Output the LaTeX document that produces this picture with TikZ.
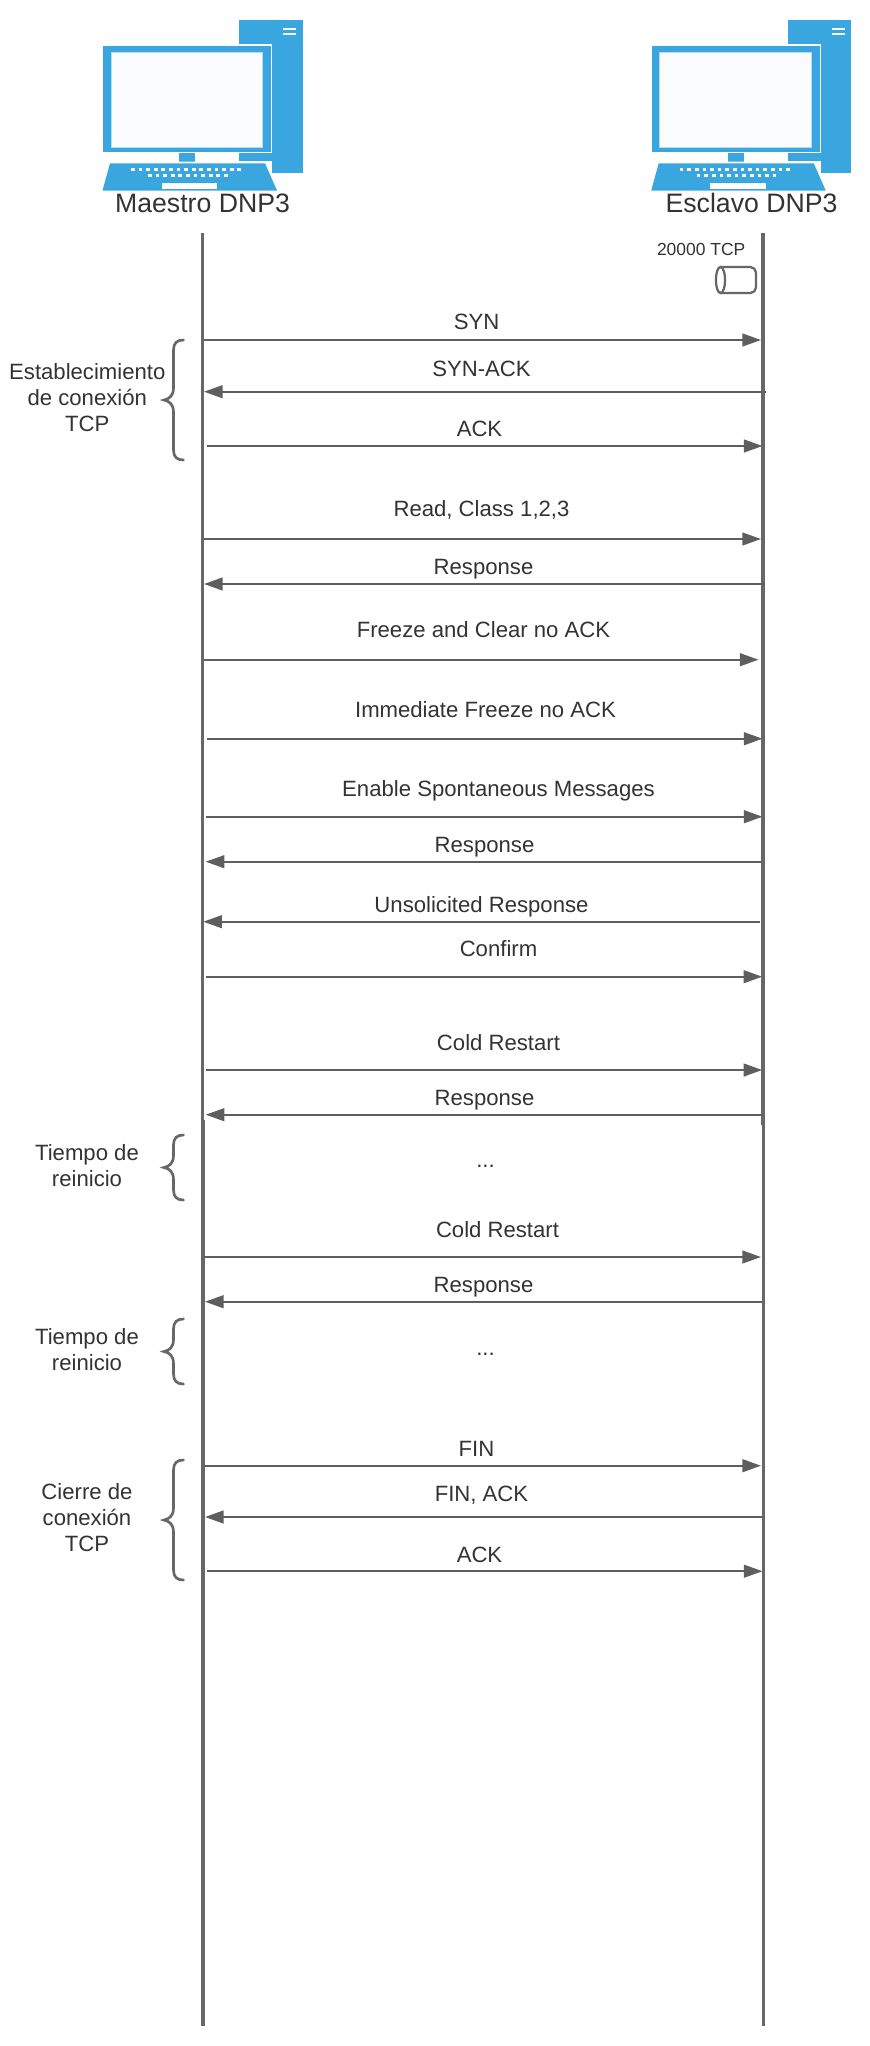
\documentclass[tikz,border=0pt]{standalone}
\usepackage{fontspec}
\setmainfont{Liberation Sans}
\usetikzlibrary{arrows.meta}
\definecolor{iconblue}{HTML}{3AA6DF}
\definecolor{screenfill}{HTML}{FBFCFE}
\definecolor{linegray}{HTML}{5E5E5E}
\definecolor{lifegray}{HTML}{676767}
\definecolor{textgray}{HTML}{333333}
\tikzset{
  x=0.75pt,y=-0.75pt,
  lifeline/.style={draw=lifegray,line width=2.6pt},
  msgline/.style={draw=linegray,line width=1.45pt,-{Triangle[length=14pt,width=9.6pt]}},
  msgtext/.style={font=\fontsize{16.6pt}{19.8pt}\selectfont,text=textgray,inner sep=0pt},
  sidetext/.style={font=\fontsize{16.6pt}{19.8pt}\selectfont,text=textgray,inner sep=0pt,align=center},
  titletext/.style={font=\fontsize{20pt}{23pt}\selectfont,text=textgray,inner sep=0pt,anchor=base},
  bracestroke/.style={draw=lifegray,line width=2pt,line cap=round},
  computer/.pic={
    \fill[iconblue] (239.3,20) rectangle (302.7,173);
    \fill[white] (230,161) rectangle (272,180);
    \draw[white,line width=2pt] (103.3,45.7) rectangle (271,152);
    \fill[iconblue] (103.3,45.7) rectangle (271,152);
    \fill[white] (283.3,27.7) rectangle (296,29.7);
    \fill[white] (283.3,33) rectangle (296,35.3);
    \draw[iconblue!40!white,line width=0.5pt,fill=screenfill] (111,52.3) rectangle (262.7,147.3);
    \fill[iconblue] (179.3,153.3) rectangle (195.3,162);
    \draw[white,line width=2.6pt] (110,163.3) -- (265,163.3) -- (277,190.5);
    \fill[iconblue] (110,163.3) -- (265,163.3) -- (277,190.5) -- (102.5,190.5) -- cycle;
    \foreach \k in {0,...,14} {\fill[white] ({131+\k*7.6},167.7) rectangle ++(3.7,3.7);}
    \foreach \k in {0,...,10} {\fill[white] ({148+\k*7.6},173.7) rectangle ++(3.7,3.7);}
    \fill[white] (161.7,183) rectangle (217,188.7);
  }
}
\newcommand{\msg}[7]{%
  \coordinate (#1a) at (#3,#2);
  \coordinate (#1b) at (#4,#2);
  \draw[msgline] (#1a) -- (#1b);
  \node[msgtext] (#1t) at (#6,#7) {#5};
}
\newcommand{\sidebrace}[3]{%
  \coordinate (#1top) at (183.5,#2);
  \coordinate (#1bot) at (183.5,#3);
  \coordinate (#1tip) at (164,{(#2+#3)/2});
  \draw[bracestroke] (#1top) .. controls (177,#2) and (173.5,{#2+3}) .. (173.5,{#2+10})
    -- (173.5,{(#2+#3)/2-12}) .. controls (173.5,{(#2+#3)/2-4}) and (169,{(#2+#3)/2-1}) .. (#1tip)
    .. controls (169,{(#2+#3)/2+1}) and (173.5,{(#2+#3)/2+4}) .. (173.5,{(#2+#3)/2+12})
    -- (173.5,{#3-10}) .. controls (173.5,{#3-3}) and (177,#3) .. (#1bot);
}
\begin{document}
\begin{tikzpicture}
\useasboundingbox (0,0) rectangle (870,2046);
\fill[white] (0,0) rectangle (870,2046);
% computers
\pic (pcm) at (0,0) {computer};
\pic (pcs) at (548.7,0) {computer};
\node[titletext] (mtitle) at (202.5,212) {Maestro DNP3};
\node[titletext] (stitle) at (751.5,212) {Esclavo DNP3};
% lifelines
\coordinate (mtop) at (202.6,233);
\coordinate (mmid) at (202.6,1140);
\coordinate (mlow) at (203.1,1120);
\coordinate (mbot) at (203.1,2026);
\coordinate (stop) at (762.8,233);
\coordinate (smid) at (762.8,1125);
\coordinate (slow) at (763.4,1110);
\coordinate (sbot) at (763.4,2026);
\draw[lifeline] (mtop) -- (mmid);
\draw[lifeline] (mlow) -- (mbot);
\draw[lifeline] (stop) -- (smid);
\draw[lifeline] (slow) -- (sbot);
% port
\node[inner sep=0pt,font=\fontsize{13.1pt}{15pt}\selectfont,text=textgray] (port) at (701.2,249.5) {20000 TCP};
\draw[draw=lifegray,line width=1.7pt,rounded corners=4.2pt] (720,267) -- (756,267) -- (756,293) -- (720,293);
\draw[draw=lifegray,line width=1.7pt] (720.5,280) ellipse [x radius=4.6,y radius=13];
% messages
\msg{syn}{340}{204}{761}{SYN}{476.5}{322}
\msg{sa}{391.7}{765.5}{204}{SYN-ACK}{481.5}{369}
\msg{ack}{446}{206.7}{762.5}{ACK}{479.5}{428.5}
\msg{read}{539}{204}{761}{Read, Class 1,2,3}{481.5}{510}
\msg{ra}{584}{765}{204}{Response}{483.5}{569}
\msg{fr}{659.7}{204}{758.5}{Freeze and Clear no ACK}{483.5}{629.5}
\msg{im}{738.7}{206.7}{762.5}{Immediate Freeze no ACK}{485.5}{709.5}
\msg{en}{816.7}{206}{762.5}{Enable Spontaneous Messages}{498.5}{791}
\msg{rb}{861.7}{762.2}{205.7}{Response}{484.5}{847.5}
\msg{un}{921.7}{759.5}{203.3}{Unsolicited Response}{481.5}{906.5}
\msg{con}{976.7}{206}{762.2}{Confirm}{498.5}{949}
\msg{cr}{1070}{206}{762.2}{Cold Restart}{498.5}{1043}
\msg{rc}{1114.7}{762.2}{205.7}{Response}{484.5}{1100.5}
\msg{cs}{1257}{204}{761}{Cold Restart}{497.5}{1230}
\msg{rd}{1301.7}{761.5}{205}{Response}{483.5}{1287}
\msg{fin}{1465.7}{204}{761}{FIN}{476.5}{1449}
\msg{fa}{1517}{761.5}{205}{FIN, ACK}{481.5}{1495}
\msg{ae}{1571.2}{206.7}{762.5}{ACK}{479.5}{1554.5}
\node[msgtext] (dotsa) at (485.5,1166) {...};
\node[msgtext] (dotsb) at (485.5,1354) {...};
% braces
\sidebrace{ba}{340}{460}
\sidebrace{bb}{1135}{1200}
\sidebrace{bc}{1319}{1384}
\sidebrace{bd}{1460}{1580}
\node[sidetext] (la) at (87.3,397.5) {Establecimiento\\de conexión\\TCP};
\node[sidetext] (lb) at (87,1165.5) {Tiempo de\\reinicio};
\node[sidetext] (lc) at (87,1349.5) {Tiempo de\\reinicio};
\node[sidetext] (ld) at (87,1517.5) {Cierre de\\conexión\\TCP};
\end{tikzpicture}
\end{document}
